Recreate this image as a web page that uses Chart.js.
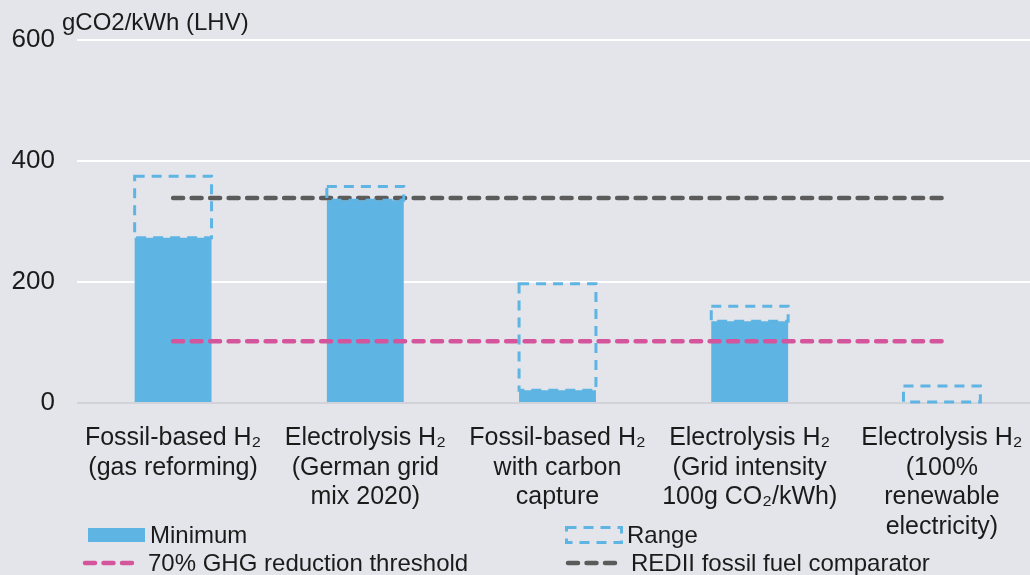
<!DOCTYPE html>
<html>
<head>
<meta charset="utf-8">
<script src="https://cdn.jsdelivr.net/npm/chart.js@4.4.1/dist/chart.umd.min.js"></script>
<style>
  html, body { margin: 0; padding: 0; background: #e4e5ea; overflow: hidden; }
  body { font-family: "Liberation Sans", Arial, sans-serif; color: #1b1b1b; }
  #wrap { position: relative; width: 1040px; height: 575px; }
  #axisTitle { position: absolute; left: 62px; top: 8px; font-size: 24px; line-height: 28px; }
  .leg { position: absolute; font-size: 24px; line-height: 28px; white-space: nowrap; }
  .sym { position: absolute; }
</style>
</head>
<body>
<div id="wrap">
  <canvas id="myChart" width="1040" height="575"></canvas>
  <div id="axisTitle">gCO2/kWh (LHV)</div>
  <div id="legend"></div>
</div>
<script>
const categories = [
  ['Fossil-based H₂', '(gas reforming)'],
  ['Electrolysis H₂', '(German grid', 'mix 2020)'],
  ['Fossil-based H₂', 'with carbon', 'capture'],
  ['Electrolysis H₂', '(Grid intensity', '100g CO₂/kWh)'],
  ['Electrolysis H₂', '(100%', 'renewable', 'electricity)']
];
const minimum = [273, 335, 21, 135, 0];
const rangeMax = [375, 358, 197, 160, 28];
const rediiComparator = [339, 339, 339, 339, 339];
const ghgThreshold = [102, 102, 102, 102, 102];
const yTicks = [0, 200, 400, 600];

const blue = '#5eb4e3';
const pink = '#d4559b';
const grey = '#5b5b5b';

// floating bars for the range: [min, max]
const rangeData = minimum.map((m, i) => [m, rangeMax[i]]);

// draws the dashed outline of the range bars
const rangeBoxes = {
  id: 'rangeBoxes',
  afterDatasetsDraw(chart) {
    const meta = chart.getDatasetMeta(1);
    const ctx = chart.ctx;
    ctx.save();
    ctx.strokeStyle = blue;
    ctx.lineWidth = 3;
    ctx.setLineDash([10, 7]);
    meta.data.forEach(bar => {
      const left = bar.x - bar.width / 2;
      ctx.strokeRect(left, bar.y, bar.width, bar.base - bar.y);
    });
    ctx.restore();
  }
};

const canvas = document.getElementById('myChart');

const chart = new Chart(canvas, {
  type: 'bar',
  data: {
    labels: categories,
    datasets: [
      {
        label: 'Minimum',
        data: minimum,
        backgroundColor: blue,
        borderWidth: 0,
        order: 3
      },
      {
        label: 'Range',
        data: rangeData,
        backgroundColor: 'rgba(0,0,0,0)',
        borderWidth: 0,
        order: 2
      },
      {
        type: 'line',
        label: '70% GHG reduction threshold',
        data: ghgThreshold,
        borderColor: pink,
        borderWidth: 4.5,
        borderDash: [10, 8.5],
        borderCapStyle: 'round',
        pointRadius: 0,
        order: 1
      },
      {
        type: 'line',
        label: 'REDII fossil fuel comparator',
        data: rediiComparator,
        borderColor: grey,
        borderWidth: 4.5,
        borderDash: [10, 8.5],
        borderCapStyle: 'round',
        pointRadius: 0,
        order: 0
      }
    ]
  },
  options: {
    responsive: false,
    animation: false,
    layout: { padding: { top: 40, right: 2, bottom: 0, left: 0 } },
    datasets: { bar: { grouped: false, categoryPercentage: 1, barPercentage: 0.4 } },
    plugins: { legend: { display: false }, tooltip: { enabled: false } },
    scales: {
      x: {
        grid: { display: false },
        border: { display: false },
        ticks: {
          color: '#1b1b1b',
          maxRotation: 0,
          autoSkip: false,
          padding: 12,
          font: { family: '"Liberation Sans", Arial, sans-serif', size: 25, lineHeight: 1.19 }
        },
        afterFit(scale) { scale.height = 172; }
      },
      y: {
        min: 0,
        max: 600,
        afterBuildTicks(scale) { scale.ticks = yTicks.map(v => ({ value: v })); },
        grid: {
          color: ctx => (ctx.tick && ctx.tick.value === 0 ? '#d2d3d8' : '#ffffff'),
          lineWidth: 2,
          tickLength: 0,
          drawTicks: false
        },
        border: { display: false },
        ticks: {
          color: '#1b1b1b',
          padding: 22,
          font: { family: '"Liberation Sans", Arial, sans-serif', size: 26 }
        },
        afterFit(scale) { scale.width = 77; }
      }
    }
  },
  plugins: [rangeBoxes]
});

// legend, two columns under the axis labels
const legendItems = [
  { text: 'Minimum', kind: 'box', x: 88, y: 535 },
  { text: 'Range', kind: 'range', x: 565, y: 535 },
  { text: '70% GHG reduction threshold', kind: 'line', color: pink, x: 82, y: 563 },
  { text: 'REDII fossil fuel comparator', kind: 'line', color: grey, x: 565, y: 563 }
];
const legend = document.getElementById('legend');
legendItems.forEach(item => {
  let sym = '';
  let textX;
  if (item.kind === 'box') {
    sym = `<div class="sym" style="left:${item.x}px;top:${item.y - 7}px;width:57px;height:14px;background:${blue}"></div>`;
    textX = item.x + 62;
  } else if (item.kind === 'range') {
    sym = `<svg class="sym" style="left:${item.x}px;top:${item.y - 9}px" width="58" height="18">
      <rect x="1.5" y="1.5" width="55" height="15" fill="none" stroke="${blue}" stroke-width="3" stroke-dasharray="10 7"/></svg>`;
    textX = item.x + 62;
  } else {
    sym = `<svg class="sym" style="left:${item.x}px;top:${item.y - 4}px" width="60" height="8">
      <line x1="3" y1="4" x2="57" y2="4" stroke="${item.color}" stroke-width="4.5" stroke-linecap="round" stroke-dasharray="10 8.5"/></svg>`;
    textX = item.x + 66;
  }
  legend.insertAdjacentHTML('beforeend', sym +
    `<div class="leg" style="left:${textX}px;top:${item.y - 14}px">${item.text}</div>`);
});
</script>
</body>
</html>
